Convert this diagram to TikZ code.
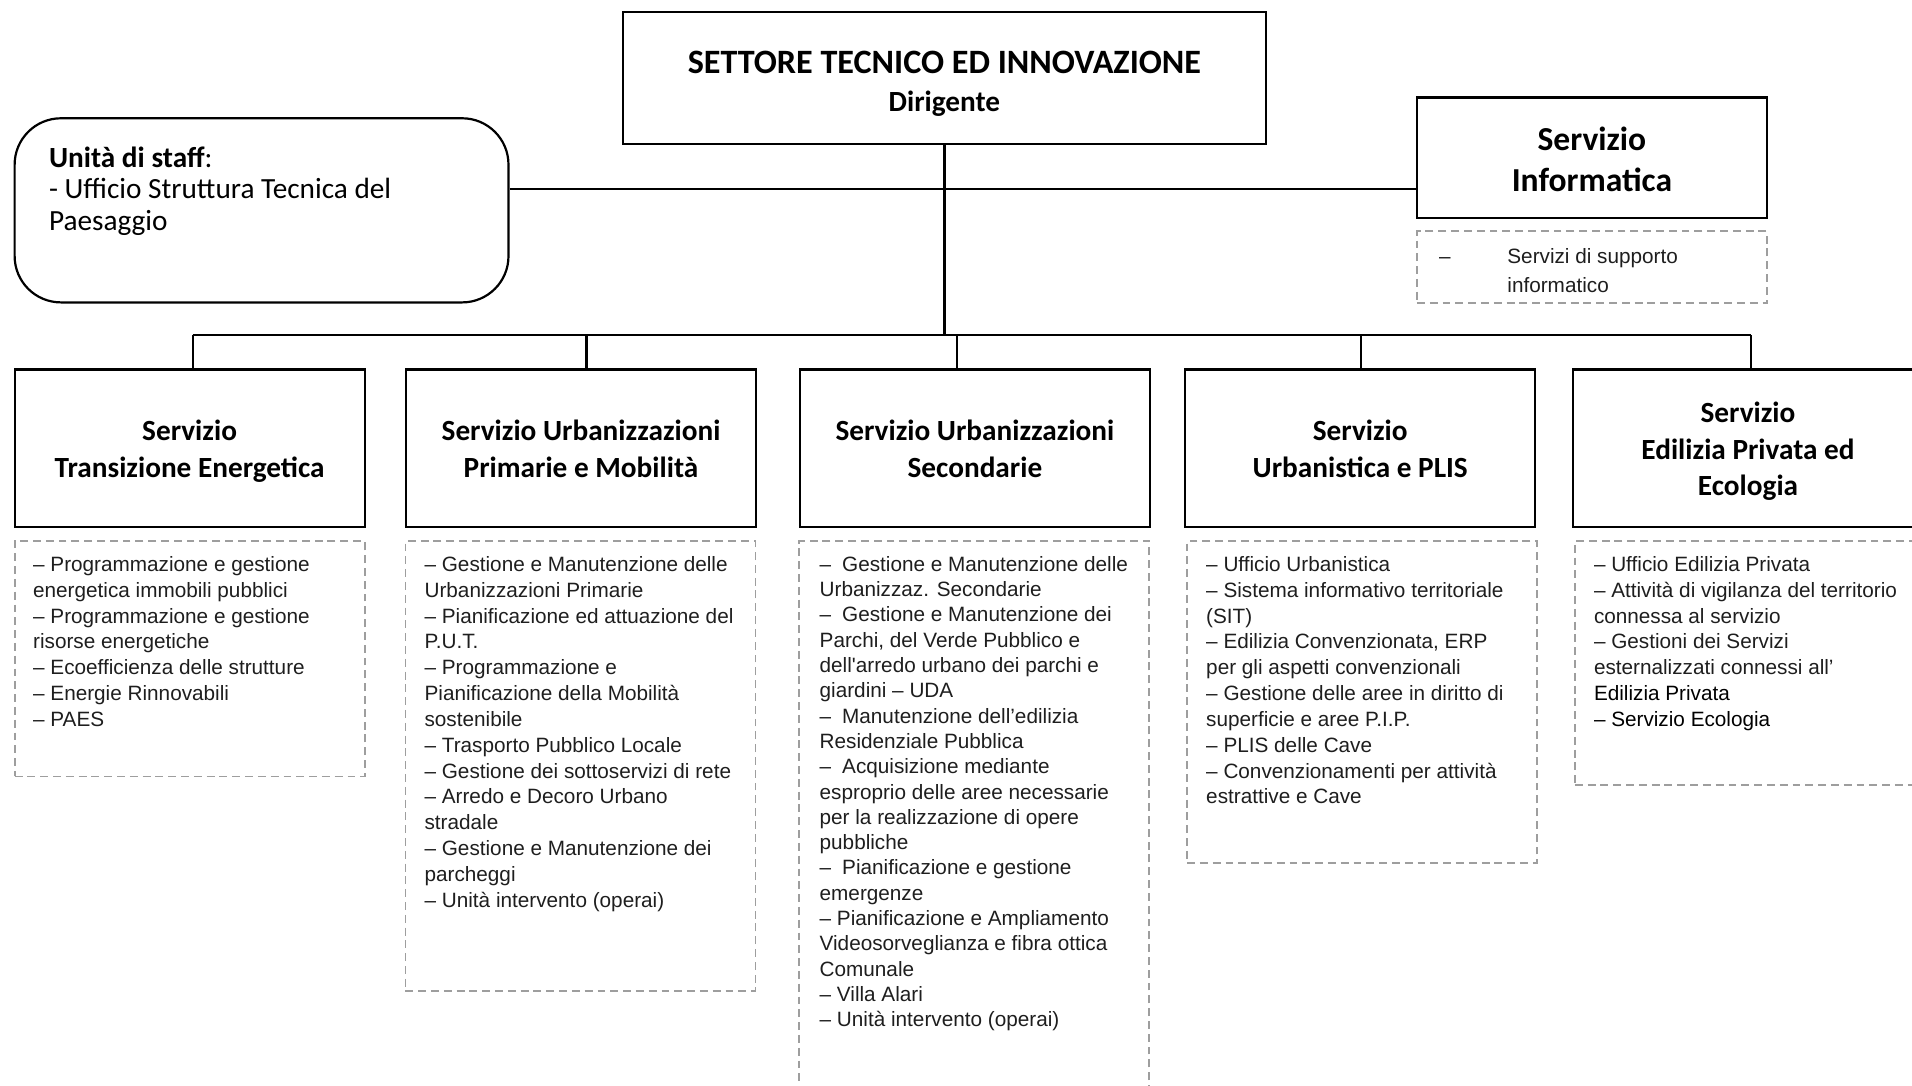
\documentclass[tikz,border=0pt]{standalone}
\usepackage{fontspec}
\setmainfont{Liberation Sans}
\newfontfamily\calfont{Carlito}
\definecolor{dashgray}{RGB}{158,158,158}
\definecolor{txtgray}{RGB}{30,30,30}
\newcommand\topstr{\rule{0pt}{25pt}}
\newcommand\botstr{\rule[-7pt]{0pt}{7pt}}
\begin{document}
\begin{tikzpicture}[x=1pt,y=-1pt,
  box/.style={draw=black, line width=1.8pt, minimum width=287pt, inner sep=0pt},
  hdr/.style={align=center, font=\calfont\bfseries\fontsize{24}{30}\selectfont},
  dbox/.style={draw=dashgray, line width=1.5pt, dash pattern=on 6.5pt off 4pt, inner sep=0pt, minimum width=287pt, anchor=north},
  list/.style={anchor=north west, inner sep=0pt, align=left, font=\fontsize{17}{21.2}\selectfont, text=txtgray},
  link/.style={draw=black, line width=1.8pt}]
\useasboundingbox (0,0) rectangle (1568,890);
\clip (0,0) rectangle (1568,890);

% top
\node[box, minimum width=527pt, minimum height=108pt, align=center,
      font=\calfont\bfseries\fontsize{28}{31}\selectfont] (main) at (774.5,64)
  {\rule{0pt}{28pt}SETTORE TECNICO ED INNOVAZIONE\\{\fontsize{24}{31}\selectfont Dirigente}};

\node[draw=black, line width=1.8pt, rounded corners=38pt, minimum width=405pt,
      minimum height=151pt, inner sep=0pt] (staff) at (214.5,172.5) {};
\node[anchor=north west, inner sep=0pt, align=left,
      font=\calfont\fontsize{24}{26}\selectfont] (stafftxt) at (40,120)
  {\textbf{Unità di staff}:\\- Ufficio Struttura Tecnica del\\Paesaggio};

\node[box, minimum height=99pt, align=center,
      font=\calfont\bfseries\fontsize{27.5}{34}\selectfont] (info) at (1305.5,129.5)
  {\rule{0pt}{22pt}Servizio\\Informatica};
\node[dbox, minimum height=59pt] (infod) at (1305.5,189) {};
\node[anchor=west, inner sep=0pt, align=left, font=\fontsize{17}{24}\selectfont,
      text=txtgray] (infotxt) at (1180,222)
  {\makebox[56pt][l]{–}Servizi di supporto\\\hspace*{56pt}informatico};

% services
\tikzset{hs/.style={box, minimum height=129pt, hdr}}
\node[hs] (s1) at (155.5,367.5) {\topstr Servizio\\Transizione Energetica\botstr};
\node[hs] (s2) at (476.5,367.5) {\topstr Servizio Urbanizzazioni\\Primarie e Mobilità\botstr};
\node[hs] (s3) at (799.5,367.5) {\topstr Servizio Urbanizzazioni\\Secondarie\botstr};
\node[hs] (s4) at (1115.5,367.5) {\topstr Servizio\\Urbanistica e PLIS\botstr};
\node[hs] (s5) at (1433.5,367.5) {\topstr Servizio\\Edilizia Privata ed\\Ecologia\botstr};

% dashed lists
\node[dbox, minimum height=193pt] (d1) at (155.5,443) {};
\node[dbox, minimum height=369pt] (d2) at (476,443) {};
\node[dbox, minimum height=470pt] (d3) at (799,443) {};
\node[dbox, minimum height=264pt] (d4) at (1117,443) {};
\node[dbox, minimum height=200pt] (d5) at (1435,443) {};

\node[list] (l1) at (27,456) {– Programmazione e gestione\\energetica immobili pubblici\\– Programmazione e gestione\\risorse energetiche\\– Ecoefficienza delle strutture\\– Energie Rinnovabili\\– PAES};
\node[list] (l2) at (348,456) {– Gestione e Manutenzione delle\\Urbanizzazioni Primarie\\– Pianificazione ed attuazione del\\P.U.T.\\– Programmazione e\\Pianificazione della Mobilità\\sostenibile\\– Trasporto Pubblico Locale\\– Gestione dei sottoservizi di rete\\– Arredo e Decoro Urbano\\stradale\\– Gestione e Manutenzione dei\\parcheggi\\– Unità intervento (operai)};
\node[list, font=\fontsize{17}{20.75}\selectfont] (l3) at (672,456) {–\hspace{9pt}Gestione e Manutenzione delle\\Urbanizzaz. Secondarie\\–\hspace{9pt}Gestione e Manutenzione dei\\Parchi, del Verde Pubblico e\\dell\textquotesingle arredo urbano dei parchi e\\giardini – UDA\\–\hspace{9pt}Manutenzione dell’edilizia\\Residenziale Pubblica\\–\hspace{9pt}Acquisizione mediante\\esproprio delle aree necessarie\\per la realizzazione di opere\\pubbliche\\–\hspace{9pt}Pianificazione e gestione\\emergenze\\– Pianificazione e Ampliamento\\Videosorveglianza e fibra ottica\\Comunale\\– Villa Alari\\– Unità intervento (operai)};
\node[list] (l4) at (989,456) {– Ufficio Urbanistica\\– Sistema informativo territoriale\\(SIT)\\– Edilizia Convenzionata, ERP\\per gli aspetti convenzionali\\– Gestione delle aree in diritto di\\superficie e aree P.I.P.\\– PLIS delle Cave\\– Convenzionamenti per attività\\estrattive e Cave};
\node[list] (l5) at (1307,456) {– Ufficio Edilizia Privata\\– Attività di vigilanza del territorio\\connessa al servizio\\– Gestioni dei Servizi\\esternalizzati connessi all’\\\textcolor{black}{Edilizia Privata}\\\textcolor{black}{– Servizio Ecologia}};

% connectors
\coordinate (sl) at ([yshift=17.5pt]staff.east);
\draw[link] (sl) -- (sl -| info.west);
\coordinate (b1) at (158,275);
\coordinate (b2) at (481,275);
\coordinate (b3) at (785,275);
\coordinate (b4) at (1116,275);
\coordinate (b5) at (1436,275);
\draw[link] (main.south) -- (main.south |- b1);
\draw[link] (b1) -- (b5);
\draw[link] (b1) -- (b1 |- s1.north);
\draw[link] (b2) -- (b2 |- s2.north);
\draw[link] (b3) -- (b3 |- s3.north);
\draw[link] (b4) -- (b4 |- s4.north);
\draw[link] (b5) -- (b5 |- s5.north);
\end{tikzpicture}
\end{document}
